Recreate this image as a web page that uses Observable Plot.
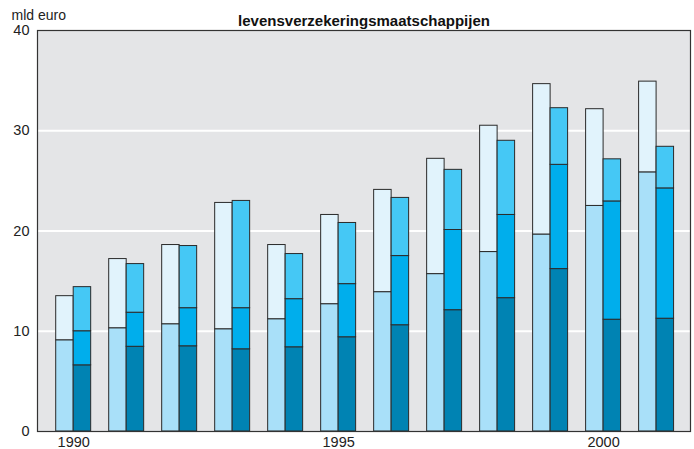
<!DOCTYPE html>
<html>
<head>
<meta charset="utf-8">
<script src="https://cdn.jsdelivr.net/npm/d3@7"></script>
<script src="https://cdn.jsdelivr.net/npm/@observablehq/plot@0.6"></script>
<style>
  body { margin: 0; background: white; }
  #chart svg { display: block; }
</style>
</head>
<body>
<div id="chart"></div>
<script>
// Data (mld euro)
const years = [1990, 1991, 1992, 1993, 1994, 1995, 1996, 1997, 1998, 1999, 2000, 2001];
// left bar: two segments (cumulative levels)
const leftBase  = [9.1, 10.3, 10.7, 10.2, 11.2, 12.7, 13.9, 15.7, 17.9, 19.65, 22.5, 25.85];
const leftTotal = [13.5, 17.2, 18.6, 22.8, 18.6, 21.6, 24.1, 27.2, 30.5, 34.65, 32.15, 34.9];
// right bar: three segments (cumulative levels)
const rightDark  = [6.6, 8.45, 8.5, 8.2, 8.4, 9.4, 10.6, 12.1, 13.3, 16.2, 11.15, 11.25];
const rightMid   = [10.0, 11.85, 12.3, 12.3, 13.2, 14.7, 17.5, 20.1, 21.6, 26.6, 22.95, 24.25];
const rightTotal = [14.4, 16.7, 18.5, 23.0, 17.7, 20.8, 23.3, 26.1, 29.0, 32.25, 27.15, 28.4];

const yTicks = [0, 10, 20, 30, 40];
const xTicks = [1990, 1995, 2000];
const title = "levensverzekeringsmaatschappijen";
const unit = "mld euro";

const colors = {
  leftLow: "#a9e0f9",
  leftHigh: "#e1f3fc",
  rightLow: "#0083b3",
  rightMid: "#00aeec",
  rightHigh: "#45c8f5"
};

// Build segment table
const segs = [];
years.forEach((yr, i) => {
  segs.push({year: yr, side: "L", lo: 0, hi: leftBase[i], key: "leftLow"});
  segs.push({year: yr, side: "L", lo: leftBase[i], hi: leftTotal[i], key: "leftHigh"});
  segs.push({year: yr, side: "R", lo: 0, hi: rightDark[i], key: "rightLow"});
  segs.push({year: yr, side: "R", lo: rightDark[i], hi: rightMid[i], key: "rightMid"});
  segs.push({year: yr, side: "R", lo: rightMid[i], hi: rightTotal[i], key: "rightHigh"});
});

const bw = 0.33;
const font = "Liberation Sans, Arial, Helvetica, sans-serif";

const chart = Plot.plot({
  width: 694,
  height: 449,
  marginLeft: 37,
  marginRight: 4,
  marginTop: 30,
  marginBottom: 18,
  style: {fontFamily: font, fontSize: "14.5px", color: "#222", background: "white"},
  x: {type: "linear", domain: [1989.317, 2001.64], ticks: xTicks, tickFormat: d => String(d), tickSize: 0, tickPadding: 5, label: null},
  y: {domain: [0, 40], ticks: yTicks, tickSize: 0, tickPadding: 8, label: null},
  color: {domain: Object.keys(colors), range: Object.values(colors)},
  marks: [
    Plot.frame({fill: "#e4e5e7", stroke: null}),
    Plot.ruleY(yTicks.filter(d => d > 0 && d < 40), {stroke: "white", strokeWidth: 2}),
    Plot.rectY(segs, {
      x1: d => d.side === "L" ? d.year - bw : d.year,
      x2: d => d.side === "L" ? d.year : d.year + bw,
      y1: "lo",
      y2: "hi",
      fill: "key",
      stroke: "#2a2a2a",
      strokeWidth: 1
    }),
    Plot.frame({stroke: "#333", strokeWidth: 1.2}),
    Plot.text([title], {frameAnchor: "top", dy: -15.5, text: d => d, fontWeight: "bold", fontSize: 15, fill: "#111", style: {letterSpacing: "0.4px"}}),
    Plot.text([unit], {frameAnchor: "top-left", dx: -26, dy: -20, textAnchor: "start", text: d => d, fontSize: 14, fill: "#222"})
  ]
});

document.getElementById("chart").appendChild(chart);
</script>
</body>
</html>
